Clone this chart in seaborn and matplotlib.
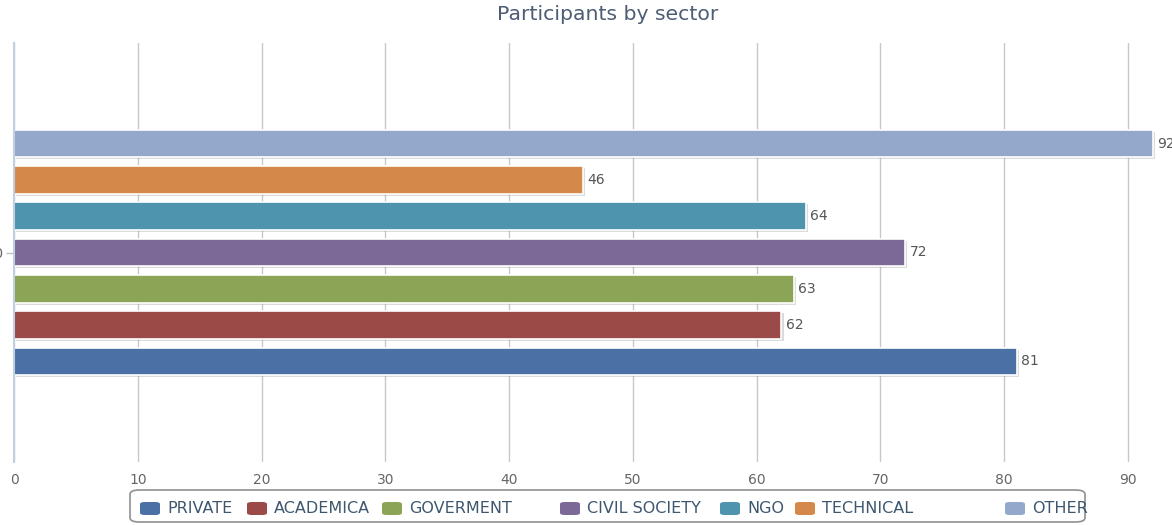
import matplotlib
matplotlib.use("Agg")
import matplotlib.pyplot as plt
import matplotlib.patheffects as pe
from matplotlib.patches import FancyBboxPatch
import seaborn as sns
import pandas as pd

# ---- data ----
categories = ["2010"]
series = ["PRIVATE", "ACADEMICA", "GOVERMENT", "CIVIL SOCIETY", "NGO", "TECHNICAL", "OTHER"]
values = [81, 62, 63, 72, 64, 46, 92]
colors = ["#4A70A6", "#9C4A47", "#8CA456", "#7C6997", "#4F94AE", "#D4884A", "#94A8CB"]
x_ticks = [0, 10, 20, 30, 40, 50, 60, 70, 80, 90]
title = "Participants by sector"

df = pd.DataFrame({"category": categories * len(series), "sector": series, "value": values})

sns.set_theme(style="white")
plt.rcParams["font.family"] = ["DejaVu Sans"]

fig = plt.figure(figsize=(11.72, 5.25), dpi=100)
ax = fig.add_axes([14 / 1172, 1 - 462 / 525, 1 - 14 / 1172, (462 - 43) / 525])

order_top_down = series[::-1]
pal = dict(zip(series, colors))
sns.barplot(data=df, y="category", x="value", hue="sector", hue_order=order_top_down,
            palette=pal, orient="h", width=0.607, gap=0.24, saturation=1,
            edgecolor="white", linewidth=1.2, legend=False, ax=ax)

for p in ax.patches:
    p.set_path_effects([pe.SimplePatchShadow(offset=(1.5, -1.5), shadow_rgbFace="#999999", alpha=0.35),
                        pe.Normal()])

for cont in ax.containers:
    ax.bar_label(cont, padding=3, fontsize=10, color="#555555")

ax.set_xlim(0, 93.55)
ax.set_ylim(0.5, -0.5)
ax.set_xticks(x_ticks)
ax.set_xticklabels([str(t) for t in x_ticks], fontsize=10, color="#666666")
ax.tick_params(axis="x", length=0, pad=8)
ax.set_yticks([0])
ax.set_yticklabels(["2010"], fontsize=10, color="#666666")
ax.tick_params(axis="y", length=6, color="#c0c0c0", width=1, pad=2, left=True)
ax.set_xlabel("")
ax.set_ylabel("")
ax.grid(axis="x", color="#c8c8c8", linewidth=1)
ax.set_axisbelow(True)
for s in ["top", "right", "bottom"]:
    ax.spines[s].set_visible(False)
ax.spines["left"].set_color("#c0d0e0")
ax.spines["left"].set_linewidth(1.5)

fig.text(608 / 1172, 1 - 14 / 525, title, ha="center", va="center", fontsize=14.7, color="#4D5D75")

# ---- legend (manual placement to match reference) ----
W, H = 1172, 525
frame = FancyBboxPatch((130 / W, 1 - 522 / H), (1085 - 130) / W, (522 - 490) / H,
                       boxstyle="round,pad=0,rounding_size=0.008", transform=fig.transFigure,
                       facecolor="white", edgecolor="#909090", linewidth=1.2)
fig.patches.append(frame)
leg_x = [140, 247, 382, 560, 720, 795, 1005]
for xp, name, c in zip(leg_x, series, colors):
    r = FancyBboxPatch((xp / W, 1 - 515 / H), 20 / W, 13 / H,
                       boxstyle="round,pad=0,rounding_size=0.004", transform=fig.transFigure,
                       facecolor=c, edgecolor="none")
    fig.patches.append(r)
    fig.text((xp + 27) / W, 1 - 508.5 / H, name, ha="left", va="center", fontsize=11.5, color="#3E576F")

fig.savefig("out.png", dpi=100)
